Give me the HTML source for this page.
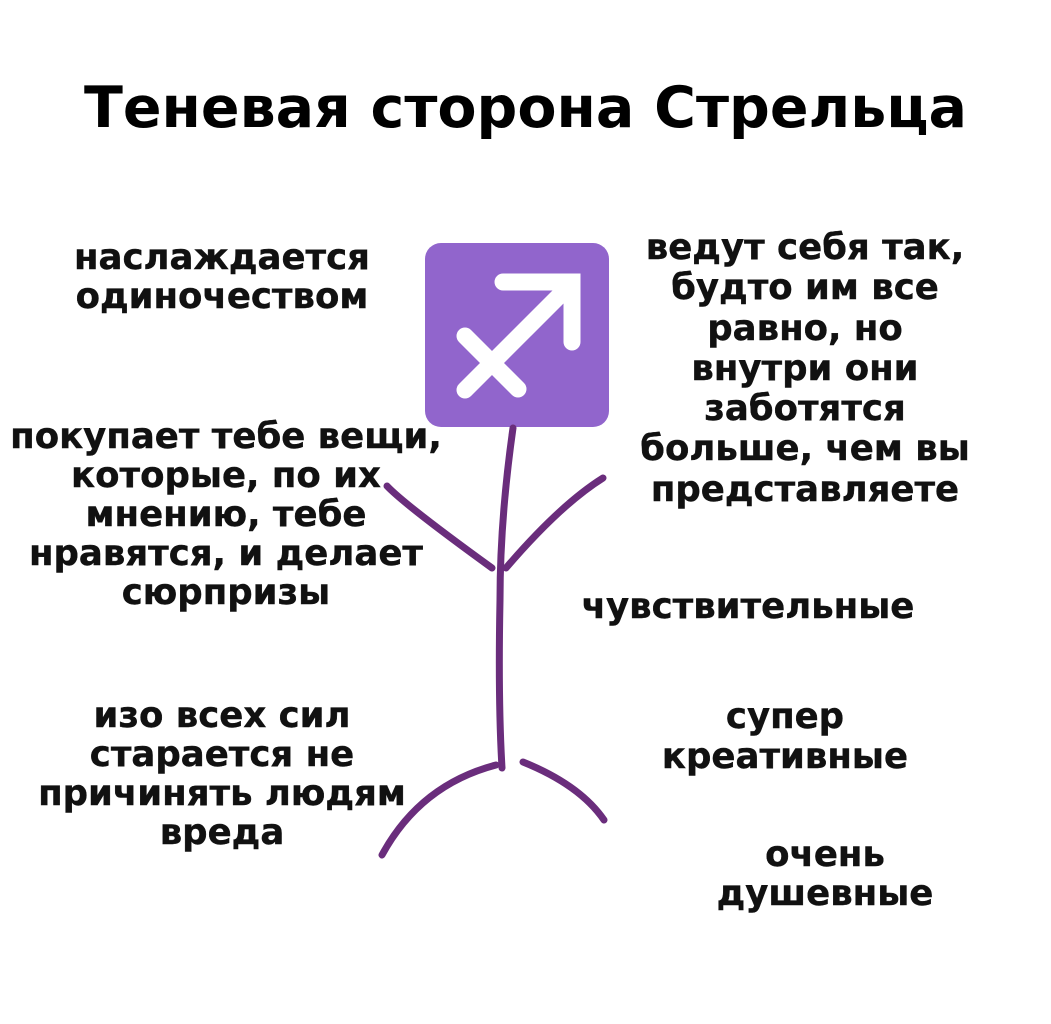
<!DOCTYPE html>
<html><head><meta charset="utf-8"><style>
body{margin:0;width:1051px;height:1024px;background:#fff;position:relative;overflow:hidden;font-family:"DejaVu Sans","Liberation Sans",sans-serif;font-weight:bold;color:#111}
.t{position:absolute;text-align:center;font-size:35.5px;line-height:39px;white-space:nowrap;transform:translateX(-50%);-webkit-text-stroke:0.4px #111}
h1{position:absolute;left:0;width:1051px;top:76px;margin:0;text-align:center;font-size:57px;line-height:64px;color:#000}
</style></head><body>
<h1>Теневая сторона Стрельца</h1>
<div class="t" style="left:222px;top:238px">наслаждается<br>одиночеством</div>
<div class="t" style="left:226px;top:417px">покупает тебе вещи,<br>которые, по их<br>мнению, тебе<br>нравятся, и делает<br>сюрпризы</div>
<div class="t" style="left:222px;top:696px">изо всех сил<br>старается не<br>причинять людям<br>вреда</div>
<div class="t" style="left:805px;top:228px;line-height:40.3px">ведут себя так,<br>будто им все<br>равно, но<br>внутри они<br>заботятся<br>больше, чем вы<br>представляете</div>
<div class="t" style="left:748px;top:587px">чувствительные</div>
<div class="t" style="left:785px;top:697px;line-height:40px">супер<br>креативные</div>
<div class="t" style="left:825px;top:835px">очень<br>душевные</div>
<svg width="1051" height="1024" style="position:absolute;left:0;top:0">
<rect x="425" y="243" width="184" height="184" rx="16" fill="#9165cc"/>
<g stroke="#fff" stroke-width="17" stroke-linecap="round" fill="none">
<line x1="465" y1="390" x2="568" y2="287"/>
<line x1="465" y1="336" x2="518" y2="389"/>
</g>
<path d="M503 282 L572 282 L572 342" stroke="#fff" stroke-width="17" fill="none" stroke-linecap="round" stroke-linejoin="miter"/>
<g stroke="#6a2d7c" stroke-width="7" stroke-linecap="round" fill="none">
<path d="M513 428 Q500 520 500 600 Q498 700 502 768"/>
<path d="M387 486 Q405 505 492 568"/>
<path d="M603 478 Q560 505 506 568"/>
<path d="M496 765 Q420 785 382 855"/>
<path d="M523 762 Q580 785 604 820"/>
</g>
</svg>
</body></html>
